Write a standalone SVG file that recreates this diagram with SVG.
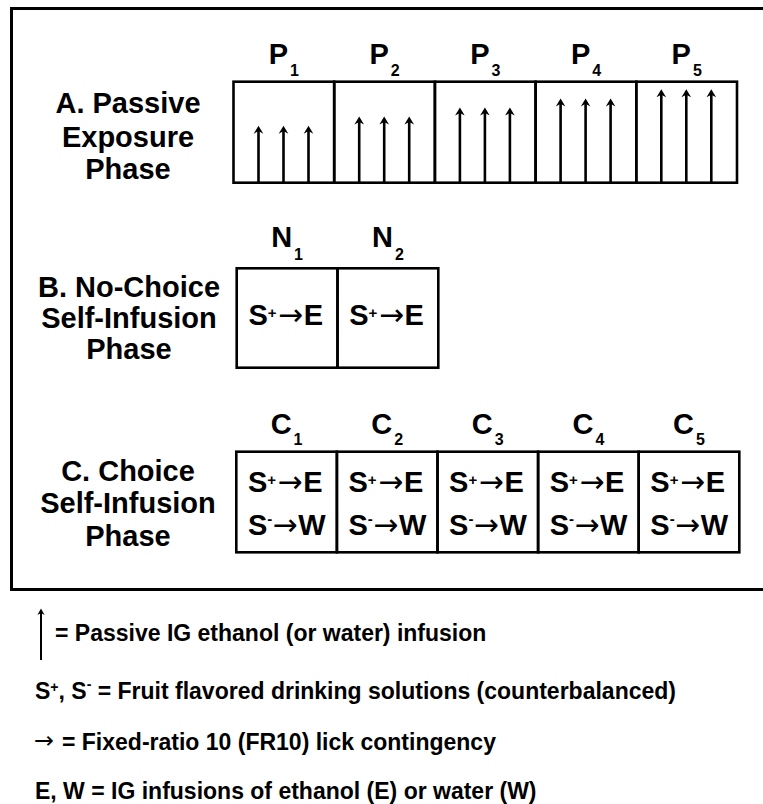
<svg xmlns="http://www.w3.org/2000/svg" width="763" height="804" viewBox="0 0 763 804">
<style>
text{font-family:"Liberation Sans",Arial,Helvetica,sans-serif;font-weight:bold;fill:#000}
.lbl{font-size:29px;text-anchor:middle}
.hd{font-size:29px;text-anchor:middle}
.sub{font-size:16px}
.ct{font-size:29px}
.sup{font-size:15px}
.ar{font-family:"DejaVu Sans",sans-serif;font-size:30px;font-weight:normal}
.leg{font-size:23px}
.lar{font-family:"DejaVu Sans",sans-serif;font-size:23px;font-weight:normal}
.lsup{font-size:14px}
.box{fill:none;stroke:#000;stroke-width:2.6}
.frame{fill:none;stroke:#000;stroke-width:3}
.stem{stroke:#000;stroke-width:2.6;fill:none}
.lstem{stroke:#000;stroke-width:2;fill:none}
</style>
<defs>
  <!-- filled arrowhead, tip at origin, pointing up -->
  <path id="ah" d="M0 0 L4.8 8 L0 5.4 L-4.8 8 Z"/>
  <path id="ahs" d="M0 0 L3.6 6.4 L0 4.4 L-3.6 6.4 Z"/>
</defs>
<rect width="763" height="804" fill="#fff"/>

<!-- outer frame, open past the right edge -->
<rect class="frame" x="11.5" y="8.5" width="770" height="581"/>

<!-- A. passive exposure phase -->
<g id="phase-A">
  <text class="lbl" x="128" y="113">A. Passive</text>
  <text class="lbl" x="128" y="147">Exposure</text>
  <text class="lbl" x="128" y="179">Phase</text>
  <g id="P1">
    <text class="hd" x="283.9" y="64">P<tspan class="sub" dx="2" dy="12">1</tspan></text>
    <rect class="box" x="233.5" y="81.7" width="100.7" height="101"/>
    <path class="stem" d="M258.5 182.7V129M283.5 182.7V129M308.5 182.7V129"/>
    <use href="#ah" x="258.5" y="125.7"/><use href="#ah" x="283.5" y="125.7"/><use href="#ah" x="308.5" y="125.7"/>
  </g>
  <g id="P2">
    <text class="hd" x="384.6" y="64">P<tspan class="sub" dx="2" dy="12">2</tspan></text>
    <rect class="box" x="334.2" y="81.7" width="100.7" height="101"/>
    <path class="stem" d="M359.2 182.7V120M384.2 182.7V120M409.2 182.7V120"/>
    <use href="#ah" x="359.2" y="116.6"/><use href="#ah" x="384.2" y="116.6"/><use href="#ah" x="409.2" y="116.6"/>
  </g>
  <g id="P3">
    <text class="hd" x="485.3" y="64">P<tspan class="sub" dx="2" dy="12">3</tspan></text>
    <rect class="box" x="434.9" y="81.7" width="100.7" height="101"/>
    <path class="stem" d="M459.9 182.7V111M484.9 182.7V111M509.9 182.7V111"/>
    <use href="#ah" x="459.9" y="107.5"/><use href="#ah" x="484.9" y="107.5"/><use href="#ah" x="509.9" y="107.5"/>
  </g>
  <g id="P4">
    <text class="hd" x="586" y="64">P<tspan class="sub" dx="2" dy="12">4</tspan></text>
    <rect class="box" x="535.6" y="81.7" width="100.7" height="101"/>
    <path class="stem" d="M560.6 182.7V102M585.6 182.7V102M610.6 182.7V102"/>
    <use href="#ah" x="560.6" y="98.4"/><use href="#ah" x="585.6" y="98.4"/><use href="#ah" x="610.6" y="98.4"/>
  </g>
  <g id="P5">
    <text class="hd" x="686.7" y="64">P<tspan class="sub" dx="2" dy="12">5</tspan></text>
    <rect class="box" x="636.3" y="81.7" width="100.7" height="101"/>
    <path class="stem" d="M661.3 182.7V93M686.3 182.7V93M711.3 182.7V93"/>
    <use href="#ah" x="661.3" y="89.3"/><use href="#ah" x="686.3" y="89.3"/><use href="#ah" x="711.3" y="89.3"/>
  </g>
</g>

<!-- B. no-choice self-infusion phase -->
<g id="phase-B">
  <text class="lbl" x="129" y="297">B. No-Choice</text>
  <text class="lbl" x="129" y="328">Self-Infusion</text>
  <text class="lbl" x="129" y="359">Phase</text>
  <g id="N1">
    <text class="hd" x="287.1" y="247">N<tspan class="sub" dx="2" dy="12.5">1</tspan></text>
    <rect class="box" x="236.7" y="268.3" width="100.8" height="99.4"/>
    <text class="ct" x="248.4" y="325">S<tspan class="sup" dy="-7">+</tspan></text>
    <text class="ar" x="278.1" y="325" textLength="25" lengthAdjust="spacingAndGlyphs">→</text>
    <text class="ct" x="303.8" y="325">E</text>
  </g>
  <g id="N2">
    <text class="hd" x="387.9" y="247">N<tspan class="sub" dx="2" dy="12.5">2</tspan></text>
    <rect class="box" x="337.5" y="268.3" width="100.8" height="99.4"/>
    <text class="ct" x="349.2" y="325">S<tspan class="sup" dy="-7">+</tspan></text>
    <text class="ar" x="378.9" y="325" textLength="25" lengthAdjust="spacingAndGlyphs">→</text>
    <text class="ct" x="404.6" y="325">E</text>
  </g>
</g>

<!-- C. choice self-infusion phase -->
<g id="phase-C">
  <text class="lbl" x="128" y="481">C. Choice</text>
  <text class="lbl" x="128" y="513">Self-Infusion</text>
  <text class="lbl" x="128" y="546">Phase</text>
  <g id="C1">
    <text class="hd" x="286.6" y="434">C<tspan class="sub" dx="2" dy="11">1</tspan></text>
    <rect class="box" x="236.3" y="451.7" width="100.6" height="100.6"/>
    <text class="ct" x="247.9" y="491.7">S<tspan class="sup" dy="-7">+</tspan></text>
    <text class="ar" x="277.6" y="491.7" textLength="25" lengthAdjust="spacingAndGlyphs">→</text>
    <text class="ct" x="303.3" y="491.7">E</text>
    <text class="ct" x="247.9" y="535">S<tspan class="sup" dy="-11">-</tspan></text>
    <text class="ar" x="272.6" y="535" textLength="25" lengthAdjust="spacingAndGlyphs">→</text>
    <text class="ct" x="298.3" y="535">W</text>
  </g>
  <g id="C2">
    <text class="hd" x="387.2" y="434">C<tspan class="sub" dx="2" dy="11">2</tspan></text>
    <rect class="box" x="336.9" y="451.7" width="100.6" height="100.6"/>
    <text class="ct" x="348.5" y="491.7">S<tspan class="sup" dy="-7">+</tspan></text>
    <text class="ar" x="378.2" y="491.7" textLength="25" lengthAdjust="spacingAndGlyphs">→</text>
    <text class="ct" x="403.9" y="491.7">E</text>
    <text class="ct" x="348.5" y="535">S<tspan class="sup" dy="-11">-</tspan></text>
    <text class="ar" x="373.2" y="535" textLength="25" lengthAdjust="spacingAndGlyphs">→</text>
    <text class="ct" x="398.9" y="535">W</text>
  </g>
  <g id="C3">
    <text class="hd" x="487.8" y="434">C<tspan class="sub" dx="2" dy="11">3</tspan></text>
    <rect class="box" x="437.5" y="451.7" width="100.6" height="100.6"/>
    <text class="ct" x="449.1" y="491.7">S<tspan class="sup" dy="-7">+</tspan></text>
    <text class="ar" x="478.8" y="491.7" textLength="25" lengthAdjust="spacingAndGlyphs">→</text>
    <text class="ct" x="504.5" y="491.7">E</text>
    <text class="ct" x="449.1" y="535">S<tspan class="sup" dy="-11">-</tspan></text>
    <text class="ar" x="473.8" y="535" textLength="25" lengthAdjust="spacingAndGlyphs">→</text>
    <text class="ct" x="499.5" y="535">W</text>
  </g>
  <g id="C4">
    <text class="hd" x="588.4" y="434">C<tspan class="sub" dx="2" dy="11">4</tspan></text>
    <rect class="box" x="538.1" y="451.7" width="100.6" height="100.6"/>
    <text class="ct" x="549.7" y="491.7">S<tspan class="sup" dy="-7">+</tspan></text>
    <text class="ar" x="579.4" y="491.7" textLength="25" lengthAdjust="spacingAndGlyphs">→</text>
    <text class="ct" x="605.1" y="491.7">E</text>
    <text class="ct" x="549.7" y="535">S<tspan class="sup" dy="-11">-</tspan></text>
    <text class="ar" x="574.4" y="535" textLength="25" lengthAdjust="spacingAndGlyphs">→</text>
    <text class="ct" x="600.1" y="535">W</text>
  </g>
  <g id="C5">
    <text class="hd" x="689" y="434">C<tspan class="sub" dx="2" dy="11">5</tspan></text>
    <rect class="box" x="638.7" y="451.7" width="100.6" height="100.6"/>
    <text class="ct" x="650.3" y="491.7">S<tspan class="sup" dy="-7">+</tspan></text>
    <text class="ar" x="680" y="491.7" textLength="25" lengthAdjust="spacingAndGlyphs">→</text>
    <text class="ct" x="705.7" y="491.7">E</text>
    <text class="ct" x="650.3" y="535">S<tspan class="sup" dy="-11">-</tspan></text>
    <text class="ar" x="675" y="535" textLength="25" lengthAdjust="spacingAndGlyphs">→</text>
    <text class="ct" x="700.7" y="535">W</text>
  </g>
</g>

<!-- key -->
<g id="legend">
  <path class="lstem" d="M41 660V612"/>
  <use href="#ahs" x="41" y="608.5"/>
  <text class="leg" x="55" y="641">= Passive IG ethanol (or water) infusion</text>
  <text class="leg" x="35" y="699">S<tspan class="lsup" dy="-7">+</tspan><tspan dy="7">, S</tspan><tspan class="lsup" dy="-10">-</tspan><tspan dy="10"> = Fruit flavored drinking solutions (counterbalanced)</tspan></text>
  <text class="lar" x="34" y="748" textLength="20" lengthAdjust="spacingAndGlyphs">→</text>
  <text class="leg" x="62" y="750">= Fixed-ratio 10 (FR10) lick contingency</text>
  <text class="leg" x="35" y="799">E, W = IG infusions of ethanol (E) or water (W)</text>
</g>

<g id="connectors"/>
</svg>
